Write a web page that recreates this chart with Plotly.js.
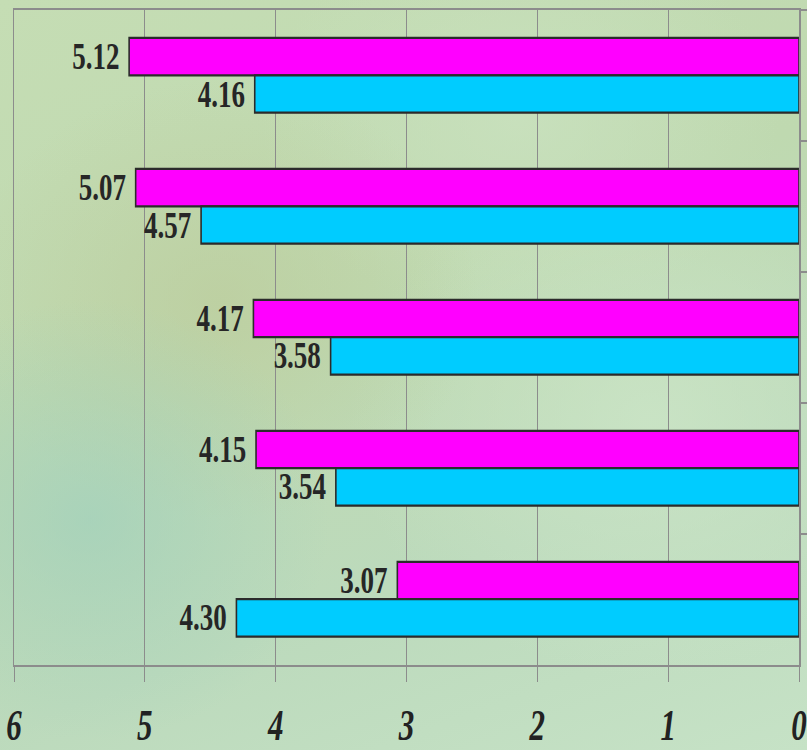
<!DOCTYPE html>
<html>
<head>
<meta charset="utf-8">
<script src="https://cdn.plot.ly/plotly-3.0.1.min.js"></script>
<style>
  html, body { margin: 0; padding: 0; width: 807px; height: 750px; overflow: hidden; }
  body {
    background:
      radial-gradient(ellipse 240px 220px at 90px 520px, rgba(160,208,188,0.7), rgba(160,208,188,0) 100%),
      radial-gradient(ellipse 260px 220px at 220px 300px, rgba(188,204,156,0.7), rgba(188,204,156,0) 100%),
      radial-gradient(ellipse 300px 260px at 650px 420px, rgba(205,230,200,0.75), rgba(205,230,200,0) 100%),
      radial-gradient(ellipse 260px 200px at 520px 120px, rgba(202,226,192,0.75), rgba(202,226,192,0) 100%),
      linear-gradient(160deg, #c5ddb4 0%, #bfd9b0 40%, #bcdabc 70%, #c6e2c6 100%);
  }
  #chart { width: 807px; height: 536px; transform: scaleY(1.3993); transform-origin: 0 0; }
</style>
</head>
<body>
<div id="chart"></div>
<script>
// Data (top to bottom)
const categories = ["Group 1", "Group 2", "Group 3", "Group 4", "Group 5"];
const magentaValues = [5.12, 5.07, 4.17, 4.15, 3.07];
const cyanValues = [4.16, 4.57, 3.58, 3.54, 4.30];
const xTickValues = [0, 1, 2, 3, 4, 5, 6];
const xTickLabels = ["0", "1", "2", "3", "4", "5", "6"];

const labelFont = { family: "Liberation Serif, Times New Roman, serif", size: 27, color: "#262626", weight: "bold" };

function barTrace(name, values, color) {
  return {
    type: "bar",
    orientation: "h",
    name: name,
    y: categories,
    x: values,
    marker: { color: color, line: { color: "#2b2b2b", width: 1.6 } },
    text: values.map(v => v.toFixed(2) + "\u00a0"),
    textposition: "outside",
    textfont: labelFont,
    constraintext: "none",
    cliponaxis: false,
    hoverinfo: "x"
  };
}

const data = [
  barTrace("Series A", magentaValues, "#ff00ff"),
  barTrace("Series B", cyanValues, "#00ccff")
];

const layout = {
  width: 807,
  height: 536,
  margin: { l: 14, r: 8, t: 7, b: 61 },
  paper_bgcolor: "rgba(0,0,0,0)",
  plot_bgcolor: "rgba(0,0,0,0)",
  barmode: "group",
  bargap: 0.43,
  bargroupgap: 0,
  showlegend: false,
  xaxis: {
    range: [6, 0],
    tickvals: xTickValues,
    ticktext: xTickLabels,
    showgrid: true,
    gridcolor: "#8c8c8c",
    gridwidth: 1,
    zeroline: false,
    showline: true,
    linecolor: "#8c8c8c",
    linewidth: 1.5,
    mirror: true,
    ticks: "outside",
    ticklen: 11,
    tickwidth: 1,
    tickcolor: "#8c8c8c",
    ticklabelstandoff: 4,
    ticklabeloverflow: "allow",
    tickfont: { family: "Liberation Serif, Times New Roman, serif", size: 31, color: "#222222", weight: "bold", style: "italic" }
  },
  yaxis: {
    type: "category",
    categoryorder: "array",
    categoryarray: categories,
    autorange: "reversed",
    side: "right",
    showgrid: false,
    zeroline: false,
    showline: true,
    linecolor: "#8c8c8c",
    linewidth: 1.5,
    mirror: true,
    ticks: "outside",
    tickson: "boundaries",
    ticklen: 6,
    tickwidth: 1.5,
    tickcolor: "#8c8c8c",
    showticklabels: false
  }
};

Plotly.newPlot("chart", data, layout, { staticPlot: true, displayModeBar: false });
</script>
</body>
</html>
